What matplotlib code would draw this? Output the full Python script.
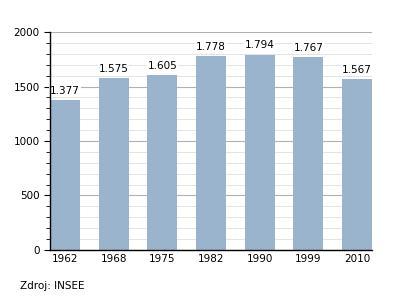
import matplotlib.pyplot as plt
import numpy as np

years = ['1962', '1968', '1975', '1982', '1990', '1999', '2010']
population = [1377, 1575, 1605, 1778, 1794, 1767, 1567]
value_labels = ['1.377', '1.575', '1.605', '1.778', '1.794', '1.767', '1.567']

fig = plt.figure(figsize=(4, 3), dpi=100)
ax = fig.add_axes([0.125, 0.167, 0.805, 0.726])

x = np.arange(len(years))
w = 0.62
ax.bar(x, population, width=w, color='#9bb4cd', zorder=3)

for i in range(len(x)):
    ax.text(x[i], population[i] + 40, value_labels[i], ha='center', va='bottom',
            fontsize=7.5, zorder=4,
            bbox=dict(facecolor='white', edgecolor='none', pad=0.5))

ax.set_xlim(-w / 2, len(years) - 1 + w / 2)
ax.set_ylim(0, 2000)
ax.set_xticks(x)
ax.set_xticklabels(years, fontsize=7.5)
ax.set_yticks([0, 500, 1000, 1500, 2000])
ax.set_yticks(np.arange(0, 2001, 100), minor=True)
ax.tick_params(axis='y', labelsize=7.5, length=4, width=0.8)
ax.tick_params(axis='y', which='minor', length=3, width=0.6)
ax.tick_params(axis='x', length=0, pad=3)

ax.grid(axis='y', which='minor', color='#e4e4e4', linewidth=0.7, zorder=0)
ax.grid(axis='y', which='major', color='#b0b0b0', linewidth=0.8, zorder=1)

ax.spines['top'].set_visible(False)
ax.spines['right'].set_visible(False)
ax.spines['left'].set_linewidth(1)
ax.spines['bottom'].set_linewidth(1)
ax.spines['left'].set_zorder(6)
ax.spines['bottom'].set_zorder(6)

fig.text(0.05, 0.037, 'Zdroj: INSEE', fontsize=7.5)

fig.savefig('out.png', dpi=100)
